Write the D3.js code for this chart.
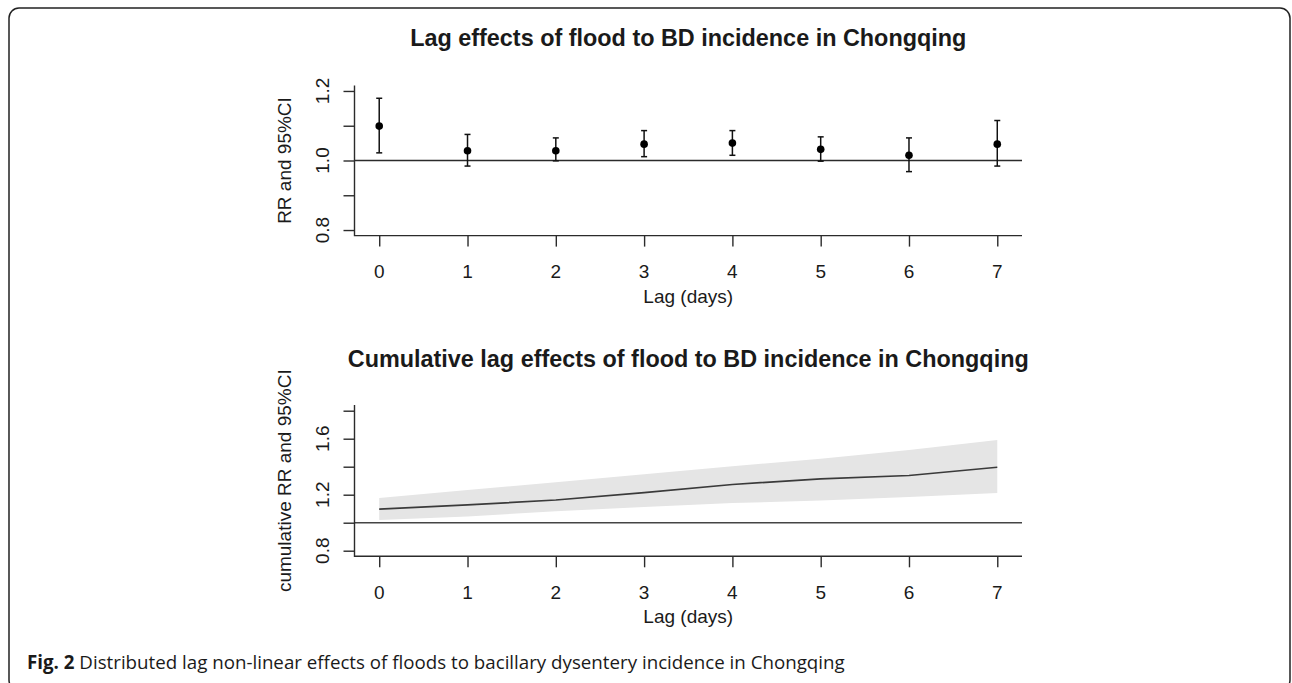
<!DOCTYPE html>
<html>
<head>
<meta charset="utf-8">
<script src="https://cdn.jsdelivr.net/npm/d3@7"></script>
<style>
  body { margin: 0; background: #fff; }
  svg { display: block; }
  text { font-family: "Liberation Sans", Arial, sans-serif; fill: #1a1a1a; }
</style>
</head>
<body>
<svg id="chart" width="1292" height="683"></svg>
<script>
// lags (days)
const lags = [0, 1, 2, 3, 4, 5, 6, 7];

// single lag RR and 95% CI (top panel)
const rr     = [1.099, 1.028, 1.028, 1.047, 1.050, 1.032, 1.015, 1.047];
const rrLow  = [1.022, 0.984, 0.999, 1.011, 1.015, 0.998, 0.968, 0.984];
const rrHigh = [1.179, 1.075, 1.065, 1.086, 1.086, 1.068, 1.065, 1.115];

// cumulative RR and 95% CI (bottom panel)
const cumRR   = [1.097, 1.127, 1.162, 1.215, 1.273, 1.313, 1.337, 1.396];
const cumLow  = [1.020, 1.044, 1.082, 1.112, 1.140, 1.159, 1.184, 1.212];
const cumHigh = [1.176, 1.233, 1.289, 1.346, 1.403, 1.457, 1.519, 1.590];

// axis ticks and labels
const topTicks = [0.8, 0.9, 1.0, 1.1, 1.2];
const topLabels = [0.8, 1.0, 1.2];
const botTicks = [0.8, 1.0, 1.2, 1.4, 1.6, 1.8];
const botLabels = [0.8, 1.2, 1.6];

const topTitle = "Lag effects of flood to BD incidence in Chongqing";
const botTitle = "Cumulative lag effects of flood to BD incidence in Chongqing";
const topYLab = "RR and 95%CI";
const botYLab = "cumulative RR and 95%CI";
const xLab = "Lag (days)";

const svg = d3.select("#chart");
const ink = "#2b2b2b";

// figure frame (rounded top corners, bottom runs off the page)
svg.append("rect")
  .attr("x", 9).attr("y", 8)
  .attr("width", 1281).attr("height", 682)
  .attr("rx", 10)
  .attr("fill", "none")
  .attr("stroke", "#222")
  .attr("stroke-width", 1.5);

// shared x scale (R style 4% extension)
const x = d3.scaleLinear().domain([-0.28, 7.28]).range([354.5, 1022]);

let drawPanel = (g, y, ticks, labels, title, yLab, titleY) => {
  const [y0, y1] = y.range();

  // L-shaped box
  g.append("path")
    .attr("d", `M${x.range()[0]},${y1}V${y0}H${x.range()[1]}`)
    .attr("fill", "none").attr("stroke", ink).attr("stroke-width", 1.4);

  // x axis ticks
  const xAxis = d3.axisBottom(x).tickValues(lags).tickSize(11).tickSizeOuter(0).tickFormat("");
  g.append("g").attr("transform", `translate(0,${y0})`).call(xAxis)
    .call(s => s.select(".domain").remove())
    .selectAll("line").attr("stroke", ink).attr("stroke-width", 1.4);

  // y axis ticks
  const yAxis = d3.axisLeft(y).tickValues(ticks).tickSize(11).tickSizeOuter(0).tickFormat("");
  g.append("g").attr("transform", `translate(${x.range()[0]},0)`).call(yAxis)
    .call(s => s.select(".domain").remove())
    .selectAll("line").attr("stroke", ink).attr("stroke-width", 1.4);

  // x tick labels
  g.selectAll(".xl").data(lags).enter().append("text")
    .attr("x", d => x(d)).attr("y", y0 + 42.5)
    .attr("text-anchor", "middle").style("font-size", "19px")
    .text(d => d);

  // y tick labels (rotated like R's las=0)
  g.selectAll(".yl").data(labels).enter().append("text")
    .attr("transform", d => `translate(329,${y(d)}) rotate(-90)`)
    .attr("text-anchor", "middle").style("font-size", "19px")
    .text(d => d3.format(".1f")(d));

  // axis titles
  g.append("text")
    .attr("x", (x.range()[0] + x.range()[1]) / 2).attr("y", y0 + 67)
    .attr("text-anchor", "middle").style("font-size", "19px")
    .text(xLab);
  g.append("text")
    .attr("transform", `translate(291,${(y0 + y1) / 2}) rotate(-90)`)
    .attr("text-anchor", "middle").style("font-size", "19px")
    .text(yLab);

  // main title
  g.append("text")
    .attr("x", (x.range()[0] + x.range()[1]) / 2).attr("y", titleY)
    .attr("text-anchor", "middle")
    .style("font-size", "23.4px").style("font-weight", "bold")
    .text(title);
};

// ---- top panel: lag specific RR
const yTop = d3.scaleLinear().domain([0.784, 1.216]).range([235.6, 85.4]);
const topPanel = svg.append("g");
drawPanel(topPanel, yTop, topTicks, topLabels, topTitle, topYLab, 46);

topPanel.append("line")
  .attr("x1", x.range()[0]).attr("x2", x.range()[1])
  .attr("y1", yTop(1)).attr("y2", yTop(1))
  .attr("stroke", ink).attr("stroke-width", 1.4);

const bars = topPanel.selectAll(".err").data(lags).enter().append("g");
bars.append("line")
  .attr("x1", d => x(d)).attr("x2", d => x(d))
  .attr("y1", (d, i) => yTop(rrLow[i])).attr("y2", (d, i) => yTop(rrHigh[i]))
  .attr("stroke", "#111").attr("stroke-width", 1.5);
bars.append("line")
  .attr("x1", d => x(d) - 3).attr("x2", d => x(d) + 3)
  .attr("y1", (d, i) => yTop(rrLow[i])).attr("y2", (d, i) => yTop(rrLow[i]))
  .attr("stroke", "#111").attr("stroke-width", 1.5);
bars.append("line")
  .attr("x1", d => x(d) - 3).attr("x2", d => x(d) + 3)
  .attr("y1", (d, i) => yTop(rrHigh[i])).attr("y2", (d, i) => yTop(rrHigh[i]))
  .attr("stroke", "#111").attr("stroke-width", 1.5);
bars.append("circle")
  .attr("cx", d => x(d)).attr("cy", (d, i) => yTop(rr[i]))
  .attr("r", 3.8).attr("fill", "#000");

// ---- bottom panel: cumulative RR
const yBot = d3.scaleLinear().domain([0.76, 1.84]).range([556.3, 405.1]);
const botPanel = svg.append("g");

const band = d3.area()
  .x(d => x(d))
  .y0((d, i) => yBot(cumLow[i]))
  .y1((d, i) => yBot(cumHigh[i]));
botPanel.append("path").datum(lags).attr("d", band).attr("fill", "#e5e5e5");

const line = d3.line().x(d => x(d)).y((d, i) => yBot(cumRR[i]));
botPanel.append("path").datum(lags).attr("d", line)
  .attr("fill", "none").attr("stroke", "#3a3a3a").attr("stroke-width", 1.7);

botPanel.append("line")
  .attr("x1", x.range()[0]).attr("x2", x.range()[1])
  .attr("y1", yBot(1)).attr("y2", yBot(1))
  .attr("stroke", "#444").attr("stroke-width", 1.5);

drawPanel(botPanel, yBot, botTicks, botLabels, botTitle, botYLab, 367);

// ---- caption
const cap = svg.append("text")
  .attr("x", 27).attr("y", 669)
  .style("font-family", "'Open Sans', sans-serif")
  .style("font-size", "16px");
cap.append("tspan").style("font-weight", "bold").text("Fig. 2");
cap.append("tspan").text(" Distributed lag non-linear effects of floods to bacillary dysentery incidence in Chongqing");
const w = cap.node().getComputedTextLength();
cap.style("font-size", (16 * 818 / w) + "px");
</script>
</body>
</html>
